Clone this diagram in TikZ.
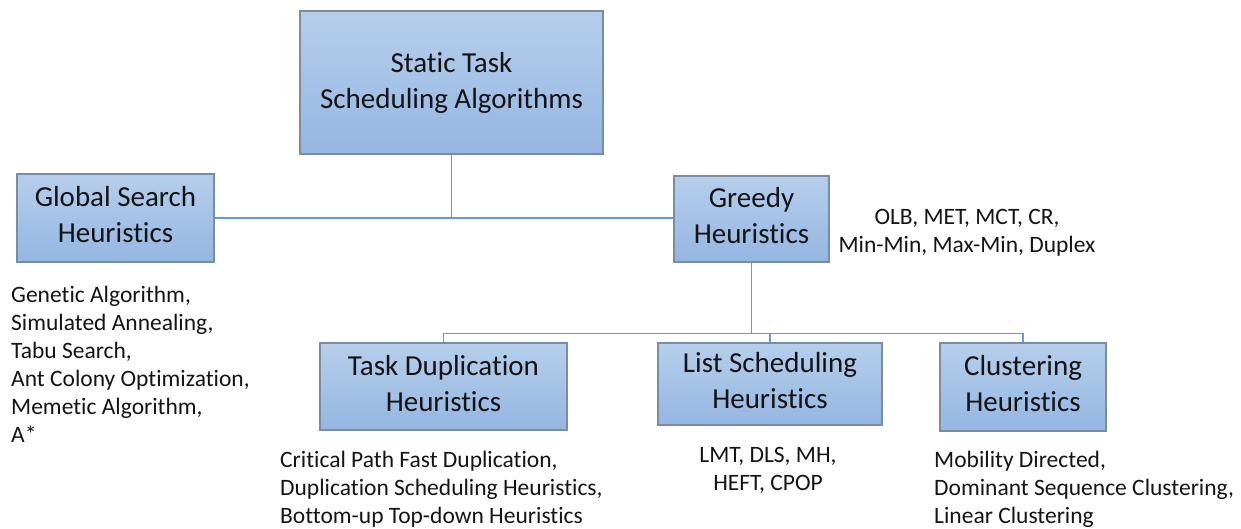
\documentclass[tikz,border=0pt]{standalone}
\usepackage{fontspec}
\setmainfont{Carlito}[Ligatures=NoCommon]
\definecolor{boxtop}{RGB}{182,206,235}
\definecolor{boxbot}{RGB}{148,182,226}
\definecolor{boxrim}{RGB}{122,140,164}
\definecolor{wire}{RGB}{104,152,210}
\definecolor{ink}{RGB}{20,20,20}
% extra depth under the last line, lifting the text a little inside its box
\newcommand{\liftpad}{\rule[-7bp]{0pt}{7bp}}
\tikzset{
  catbox/.style={draw=boxrim, line width=1.2bp, top color=boxtop, bottom color=boxbot,
    text=ink, align=center, inner sep=0pt, font=\fontsize{29bp}{36bp}\selectfont},
  examples/.style={text=ink, inner sep=0pt, font=\fontsize{23.5bp}{28bp}\selectfont},
  wireline/.style={draw=wire, line width=1.5bp}
}
\begin{document}
\begin{tikzpicture}[x=1bp,y=-1bp]
\useasboundingbox (0,0) rectangle (1241,529);

% category boxes
\node[catbox, minimum width=303bp, minimum height=143bp] (root) at (451.5,82.5) {Static Task\\Scheduling Algorithms};
\node[catbox, minimum width=197bp, minimum height=88bp] (global) at (115.5,218) {Global Search\\Heuristics\liftpad};
\node[catbox, minimum width=155bp, minimum height=86bp] (greedy) at (751.5,219) {Greedy\\Heuristics\liftpad};
\node[catbox, minimum width=247bp, minimum height=87bp] (taskdup) at (443.5,386.5) {Task Duplication\\Heuristics\liftpad};
\node[catbox, minimum width=224bp, minimum height=82bp] (listsch) at (770,384) {List Scheduling\\Heuristics\liftpad};
\node[catbox, minimum width=166bp, minimum height=88bp] (clust) at (1023,387) {Clustering\\Heuristics\liftpad};

% level of the lower branching line
\coordinate (bus) at (752,333.5);

% connectors
\draw[wireline] (global.east) -- (global.east -| greedy.west);
\draw[wireline] (root.south) -- (root.south |- global.east);
\draw[wireline] (greedy.south) -- (greedy.south |- bus);
\draw[wireline] (taskdup.north) |- (clust.north |- bus) -- (clust.north);
\draw[wireline] (listsch.north) -- (listsch.north |- bus);

% example lists
\node[examples, anchor=north west, align=left] (globalex) at (11,286)
  {Genetic Algorithm,\\Simulated Annealing,\\Tabu Search,\\Ant Colony Optimization,\\Memetic Algorithm,\\A*};
\node[examples, anchor=north, align=center] (greedyex) at (967,209)
  {OLB, MET, MCT, CR,\\Min-Min, Max-Min, Duplex};
\node[examples, anchor=north west, align=left] (taskdupex) at (280,450.5)
  {Critical Path Fast Duplication,\\Duplication Scheduling Heuristics,\\Bottom-up Top-down Heuristics};
\node[examples, anchor=north, align=center] (listex) at (768,447)
  {LMT, DLS, MH,\\HEFT, CPOP};
\node[examples, anchor=north west, align=left] (clustex) at (934,450.5)
  {Mobility Directed,\\Dominant Sequence Clustering,\\Linear Clustering};
\end{tikzpicture}
\end{document}
